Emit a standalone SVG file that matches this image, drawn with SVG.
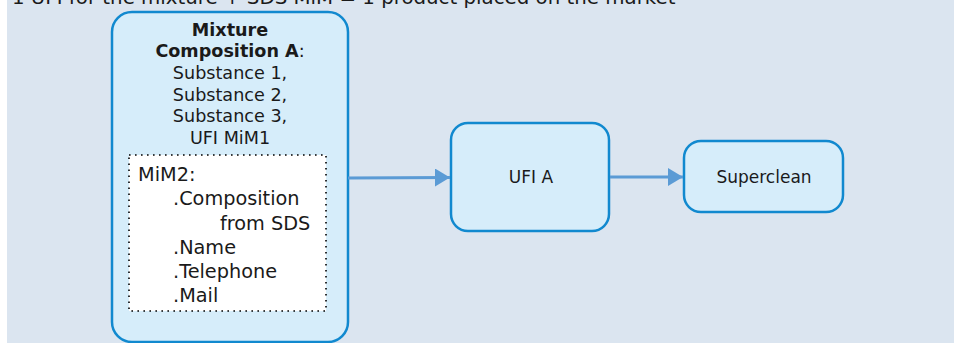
<svg xmlns="http://www.w3.org/2000/svg" width="954" height="343" viewBox="0 0 954 343">
  <defs>
    <style>
      .bg { fill: #dbe5f0; }
      .node { fill: #d6edfa; stroke: #1189cf; stroke-width: 2.5; }
      .t { font-family: "DejaVu Sans", Verdana, sans-serif; fill: #1a1a1a; }
      .c { text-anchor: middle; font-size: 17.6px; }
      .b { font-weight: bold; }
      .list { font-size: 19.3px; }
      .lbl { text-anchor: middle; font-size: 17px; }
      .conn { stroke: #5b9bd5; stroke-width: 3; fill: none; }
      .dotted { fill: #ffffff; stroke: #000000; stroke-width: 1.6; stroke-dasharray: 1.6 4.4; }
    </style>
    <marker id="arrow" markerWidth="6" markerHeight="6" refX="5" refY="3" orient="auto" markerUnits="strokeWidth">
      <path d="M0,0 L5,3 L0,6 Z" fill="#5b9bd5"/>
    </marker>
  </defs>

  <rect class="bg" x="7" y="0" width="947" height="343"/>

  <text class="t" x="12" y="4" font-size="19.8">1 UFI for the mixture + SDS MiM = 1 product placed on the market</text>

  <g id="node-mixture">
    <rect class="node" x="112" y="12" width="236" height="330" rx="20" ry="20"/>
    <text class="t c b" x="230" y="36">Mixture</text>
    <text class="t c" x="230" y="57"><tspan class="b">Composition A</tspan>:</text>
    <text class="t c" x="230" y="79">Substance 1,</text>
    <text class="t c" x="230" y="100.5">Substance 2,</text>
    <text class="t c" x="230" y="122">Substance 3,</text>
    <text class="t c" x="230" y="143.5">UFI MiM1</text>
    <g id="node-mim2">
      <rect class="dotted" x="129" y="155" width="197" height="156"/>
      <text class="t list" x="138" y="181">MiM2:</text>
      <text class="t list" x="173" y="205">.Composition</text>
      <text class="t list" x="220" y="229.5">from SDS</text>
      <text class="t list" x="173" y="253.5">.Name</text>
      <text class="t list" x="173" y="278">.Telephone</text>
      <text class="t list" x="173" y="302">.Mail</text>
    </g>
  </g>

  <g id="node-ufi">
    <rect class="node" x="451" y="123" width="158" height="108" rx="17" ry="17"/>
    <text class="t lbl" x="531" y="183">UFI A</text>
  </g>

  <g id="node-superclean">
    <rect class="node" x="684" y="141" width="159" height="71" rx="17" ry="17"/>
    <text class="t lbl" x="764" y="183">Superclean</text>
  </g>

  <g id="connectors">
    <line class="conn" x1="348" y1="178" x2="450" y2="177.5" marker-end="url(#arrow)"/>
    <line class="conn" x1="610" y1="177" x2="683" y2="177" marker-end="url(#arrow)"/>
  </g>
</svg>
